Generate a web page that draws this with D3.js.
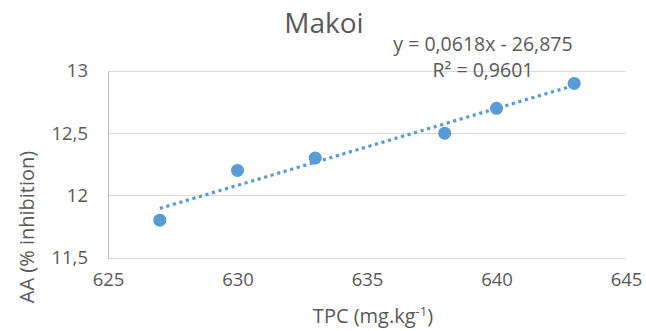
<!DOCTYPE html>
<html>
<head>
<meta charset="utf-8">
<script src="https://cdn.jsdelivr.net/npm/d3@7"></script>
<style>
  html, body { margin: 0; padding: 0; background: #fff; }
  svg text { font-family: "Open Sans", sans-serif; fill: #595959; }
</style>
</head>
<body>
<svg id="chart" width="646" height="331"></svg>
<script>
// ---- data ----
const title = "Makoi";
const xValues = [627, 630, 633, 638, 640, 643];
const yValues = [11.8, 12.2, 12.3, 12.5, 12.7, 12.9];
const xTicks = [625, 630, 635, 640, 645];
const yTicks = [11.5, 12, 12.5, 13];
const equationLines = ["y = 0,0618x - 26,875", "R² = 0,9601"];
const xTitle = "TPC (mg.kg";
const xTitleSup = "-1";
const yTitle = "AA (% inhibition)";

const svg = d3.select("#chart");
const W = 646, H = 331;
const margin = { left: 108, right: 20, top: 71, bottom: 73.5 };

const x = d3.scaleLinear().domain([625, 645]).range([margin.left, W - margin.right]);
const y = d3.scaleLinear().domain([11.5, 13]).range([H - margin.bottom, margin.top]);

const fmt = v => String(v).replace(".", ",");

// gridlines
svg.append("g").selectAll("line").data(yTicks).join("line")
  .attr("x1", x(625)).attr("x2", x(645))
  .attr("y1", d => Math.round(y(d)) + 0.5).attr("y2", d => Math.round(y(d)) + 0.5)
  .attr("stroke", "#d9d9d9").attr("stroke-width", 1);

// left axis line
svg.append("line")
  .attr("x1", Math.round(x(625)) + 0.5).attr("x2", Math.round(x(625)) + 0.5)
  .attr("y1", Math.round(y(13)) + 0.5).attr("y2", Math.round(y(11.5)) + 0.5)
  .attr("stroke", "#bfbfbf").attr("stroke-width", 1);

// y axis labels
const yAxis = d3.axisLeft(y).tickValues(yTicks).tickFormat(fmt).tickSize(0).tickPadding(20);
const gy = svg.append("g").attr("transform", `translate(${x(625)},0)`).call(yAxis);
gy.select(".domain").remove();
gy.selectAll("text").style("font-size", "18.5px").attr("fill", "#595959").attr("font-family", "Open Sans");

// x axis labels
const xAxis = d3.axisBottom(x).tickValues(xTicks).tickFormat(d3.format("d")).tickSize(0).tickPadding(15);
const gx = svg.append("g").attr("transform", `translate(0,${y(11.5)})`).call(xAxis);
gx.select(".domain").remove();
gx.selectAll("text").style("font-size", "18.5px").attr("fill", "#595959").attr("font-family", "Open Sans");

// trendline: least squares fit of the data
const n = xValues.length;
const mx = d3.mean(xValues), my = d3.mean(yValues);
let sxy = 0, sxx = 0;
for (let i = 0; i < n; i++) { sxy += (xValues[i] - mx) * (yValues[i] - my); sxx += (xValues[i] - mx) ** 2; }
const slope = sxy / sxx, intercept = my - slope * mx;
const xmin = d3.min(xValues), xmax = d3.max(xValues);
svg.append("line")
  .attr("x1", x(xmin)).attr("y1", y(slope * xmin + intercept))
  .attr("x2", x(xmax)).attr("y2", y(slope * xmax + intercept))
  .attr("stroke", "#5B9BD5").attr("stroke-width", 3.2)
  .attr("stroke-dasharray", "3.2 3.6");

// markers
svg.append("g").selectAll("circle").data(xValues.map((v, i) => [v, yValues[i]])).join("circle")
  .attr("cx", d => x(d[0])).attr("cy", d => y(d[1])).attr("r", 6.5)
  .attr("fill", "#5B9BD5");

// title
svg.append("text").attr("x", 324).attr("y", 33).attr("text-anchor", "middle")
  .style("font-size", "28px").text(title);

// equation
svg.append("g").selectAll("text").data(equationLines).join("text")
  .attr("x", 483).attr("y", (d, i) => 51 + i * 25.5).attr("text-anchor", "middle")
  .style("font-size", "19.5px").text(d => d);

// x title
const xt = svg.append("text").attr("x", (x(625) + x(645)) / 2 + 6).attr("y", 323)
  .attr("text-anchor", "middle").style("font-size", "20px");
xt.append("tspan").text(xTitle);
xt.append("tspan").attr("dy", -7).style("font-size", "13px").text(xTitleSup);
xt.append("tspan").attr("dy", 7).text(")");

// y title
svg.append("text").attr("transform", `translate(34,227) rotate(-90)`)
  .attr("text-anchor", "middle").style("font-size", "20px").text(yTitle);
</script>
</body>
</html>
